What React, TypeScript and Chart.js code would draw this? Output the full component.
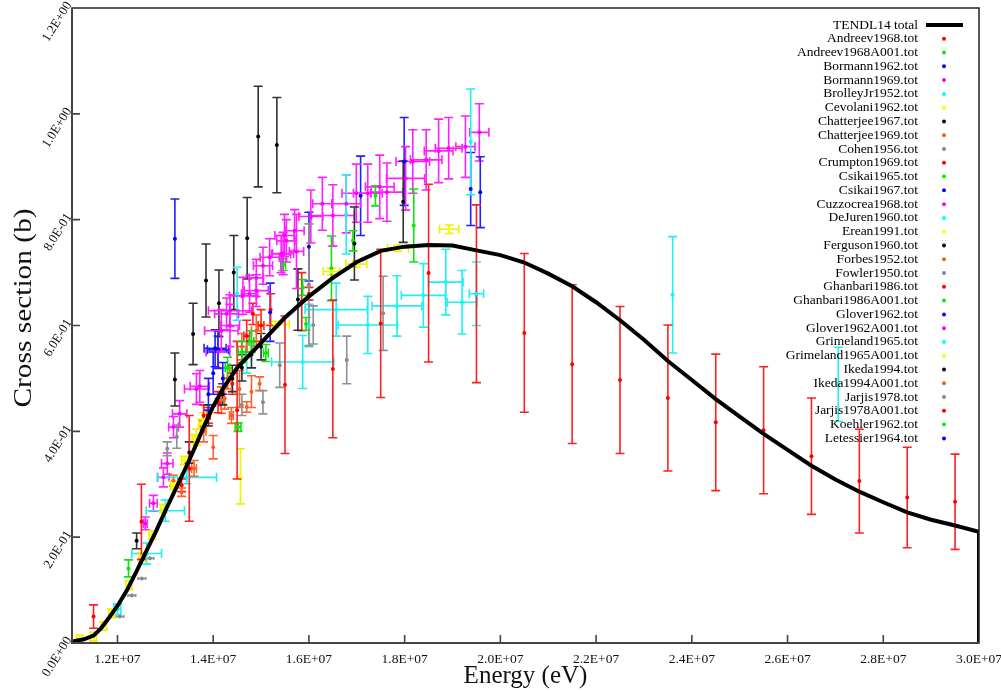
import React, { useEffect, useRef } from "react";
import { Chart, registerables } from "chart.js";

Chart.register(...registerables);

// [energy (eV), cross section (b), energy error, cross-section error]
type P = [number, number, number, number];

const xTicks = [1.2e7, 1.4e7, 1.6e7, 1.8e7, 2.0e7, 2.2e7, 2.4e7, 2.6e7, 2.8e7, 3.0e7];
const yTicks = [0, 0.2, 0.4, 0.6, 0.8, 1.0, 1.2];
const xTitle = "Energy (eV)";
const yTitle = "Cross section (b)";

const tendlEnergy = [
  1.105e7, 1.13e7, 1.15e7, 1.165e7, 1.18e7, 1.2e7, 1.22e7, 1.24e7, 1.26e7, 1.28e7, 1.3e7, 1.32e7,
  1.34e7, 1.36e7, 1.38e7, 1.4e7, 1.42e7, 1.45e7, 1.5e7, 1.55e7, 1.6e7, 1.65e7, 1.7e7, 1.75e7,
  1.8e7, 1.85e7, 1.9e7, 1.95e7, 2.0e7, 2.05e7, 2.1e7, 2.15e7, 2.2e7, 2.25e7, 2.3e7, 2.35e7,
  2.4e7, 2.45e7, 2.5e7, 2.55e7, 2.6e7, 2.65e7, 2.7e7, 2.75e7, 2.8e7, 2.85e7, 2.9e7, 2.95e7,
  3.0e7, 3.0e7,
];
const tendlSigma = [
  0.003, 0.007, 0.014, 0.027, 0.045, 0.07, 0.1, 0.136, 0.173, 0.21, 0.25, 0.288,
  0.326, 0.366, 0.408, 0.447, 0.48, 0.52, 0.567, 0.615, 0.655, 0.69, 0.72, 0.741,
  0.749, 0.752, 0.751, 0.742, 0.733, 0.719, 0.698, 0.674, 0.644, 0.61, 0.573, 0.533,
  0.497, 0.461, 0.428, 0.395, 0.365, 0.335, 0.309, 0.286, 0.266, 0.247, 0.233, 0.222,
  0.21, 0,
];

const andreev1968: P[] = [[1.15e7, 0.05, 0, 0.022], [1.334e7, 0.298, 0, 0.012], [1.39e7, 0.43, 0.04e6, 0.015]];
const andreev1968A001: P[] = [[1.223e7, 0.141, 0, 0.016], [1.452e7, 0.408, 0.06e6, 0.008]];
const bormann1962: P[] = [
  [1.32e7, 0.764, 0, 0.075], [1.519e7, 0.625, 0, 0.055], [1.6e7, 0.749, 0, 0.065],
  [1.708e7, 0.845, 0, 0.075], [1.799e7, 0.91, 0, 0.083],
];
const bormann1969: P[] = [
  [1.258e7, 0.226, 0.04e6, 0.012], [1.275e7, 0.264, 0.08e6, 0.015], [1.296e7, 0.313, 0.12e6, 0.018],
  [1.304e7, 0.339, 0.12e6, 0.02], [1.317e7, 0.408, 0.1e6, 0.02], [1.33e7, 0.433, 0.15e6, 0.025],
  [1.365e7, 0.48, 0.25e6, 0.029], [1.372e7, 0.485, 0.2e6, 0.03], [1.41e7, 0.55, 0.25e6, 0.03],
];
const brolleyJr1952: P[] = [
  [1.587e7, 0.531, 0.65e6, 0.05], [1.657e7, 0.63, 0.65e6, 0.05], [1.723e7, 0.601, 0.62e6, 0.054],
  [1.784e7, 0.637, 0.52e6, 0.057], [1.839e7, 0.657, 0.46e6, 0.06], [1.886e7, 0.682, 0.36e6, 0.062],
  [1.92e7, 0.644, 0.31e6, 0.06], [1.95e7, 0.66, 0.15e6, 0.06], [1.6e7, 0.6, 0, 0.04],
];
const cevolani1962: P[] = [[1.457e7, 0.315, 0, 0.052], [1.365e7, 0.389, 0, 0.015], [1.379e7, 0.42, 0, 0.015]];
const chatterjee1967: P[] = [
  [1.32e7, 0.498, 0, 0.05], [1.358e7, 0.584, 0, 0.058], [1.385e7, 0.685, 0, 0.069], [1.412e7, 0.642, 0, 0.063],
  [1.443e7, 0.7, 0, 0.07], [1.471e7, 0.765, 0, 0.077], [1.494e7, 0.957, 0, 0.095], [1.533e7, 0.941, 0, 0.09],
];
const chatterjee1969: P[] = [[1.317e7, 0.307, 0, 0.01], [1.334e7, 0.285, 0, 0.008], [1.4e7, 0.37, 0, 0.022]];
const cohen1956: P[] = [
  [1.205e7, 0.05, 0.08e6, 0], [1.23e7, 0.09, 0.08e6, 0], [1.251e7, 0.122, 0.08e6, 0], [1.268e7, 0.16, 0.08e6, 0],
];
const crumpton1969: P[] = [[1.483e7, 0.622, 0, 0.02], [1.585e7, 0.645, 0, 0.055], [1.6e7, 0.66, 0, 0.012]];
const csikai1965: P[] = [
  [1.51e7, 0.548, 0.05e6, 0.016], [1.546e7, 0.715, 0.05e6, 0.011], [1.594e7, 0.603, 0, 0.012], [1.587e7, 0.672, 0, 0.015],
];
const csikai1967: P[] = [[1.404e7, 0.557, 0.23e6, 0.035], [1.41e7, 0.554, 0.22e6, 0.035], [1.4e7, 0.51, 0, 0.04]];
const cuzzocrea1968: P[] = [
  [1.417e7, 0.59, 0.35e6, 0.04], [1.435e7, 0.6, 0.2e6, 0.04], [1.476e7, 0.66, 0.17e6, 0.035], [1.49e7, 0.69, 0.15e6, 0.035],
  [1.504e7, 0.713, 0.2e6, 0.035], [1.518e7, 0.729, 0.2e6, 0.035], [1.546e7, 0.736, 0.22e6, 0.04], [1.553e7, 0.76, 0.2e6, 0.04],
  [1.57e7, 0.779, 0.2e6, 0.04], [1.604e7, 0.806, 0.25e6, 0.05], [1.628e7, 0.83, 0.2e6, 0.05], [1.65e7, 0.808, 0.45e6, 0.058],
  [1.678e7, 0.83, 0.3e6, 0.055], [1.699e7, 0.85, 0.3e6, 0.055], [1.723e7, 0.85, 0.3e6, 0.055], [1.748e7, 0.862, 0.3e6, 0.06],
  [1.763e7, 0.852, 0.33e6, 0.055], [1.802e7, 0.878, 0.4e6, 0.06], [1.817e7, 0.91, 0.35e6, 0.06], [1.845e7, 0.913, 0.33e6, 0.057],
  [1.871e7, 0.93, 0.3e6, 0.06], [1.892e7, 0.935, 0.28e6, 0.058], [1.927e7, 0.938, 0.2e6, 0.058], [1.956e7, 0.965, 0.2e6, 0.054],
];
const deJuren1960: P[] = [
  [1.2e7, 0.064, 0.07e6, 0.01], [1.261e7, 0.169, 0.31e6, 0.02], [1.3e7, 0.25, 0.4e6, 0.02], [1.345e7, 0.313, 0.62e6, 0.012],
  [1.45e7, 0.66, 0, 0.05], [1.678e7, 0.81, 0, 0.075], [1.47e7, 0.54, 0.1e6, 0.03],
];
const erean1991: P[] = [
  [1.529e7, 0.602, 0.3e6, 0.006], [1.647e7, 0.702, 0.17e6, 0.006], [1.699e7, 0.716, 0.22e6, 0.006],
  [1.786e7, 0.746, 0.22e6, 0.006], [1.893e7, 0.782, 0.2e6, 0.008],
];
const ferguson1960: P[] = [[1.577e7, 0.649, 0, 0.058], [1.695e7, 0.755, 0, 0.069], [1.797e7, 0.834, 0, 0.077]];
const forbes1952: P[] = [
  [1.417e7, 0.459, 0, 0.025], [1.424e7, 0.462, 0, 0.02], [1.438e7, 0.43, 0.04e6, 0.015], [1.455e7, 0.48, 0, 0.035],
  [1.47e7, 0.446, 0, 0.01], [1.48e7, 0.475, 0, 0.03], [1.497e7, 0.49, 0, 0.013],
];
const fowler1950: P[] = [
  [1.304e7, 0.367, 0, 0.013], [1.324e7, 0.39, 0, 0.022], [1.46e7, 0.45, 0, 0.02], [1.504e7, 0.455, 0, 0.022], [1.539e7, 0.525, 0, 0.042],
];
const ghanbari1986: P[] = [
  [1.38e7, 0.43, 0, 0.02], [1.41e7, 0.455, 0.05e6, 0.02], [1.44e7, 0.49, 0, 0.02], [1.47e7, 0.58, 0.06e6, 0.03],
  [1.5e7, 0.6, 0.06e6, 0.03], [1.52e7, 0.63, 0, 0.03],
];
const ghanbari1986A001: P[] = [[1.647e7, 0.708, 0, 0.061], [1.692e7, 0.76, 0, 0.019], [1.739e7, 0.845, 0, 0.019], [1.819e7, 0.789, 0, 0.069]];
const glover1962: P[] = [[1.938e7, 0.858, 0, 0.069], [1.958e7, 0.852, 0, 0.067]];
const glover1962A001: P[] = [
  [1.428e7, 0.622, 0.25e6, 0.03], [1.435e7, 0.628, 0.45e6, 0.03], [1.462e7, 0.656, 0.28e6, 0.035], [1.49e7, 0.666, 0.25e6, 0.03],
  [1.542e7, 0.735, 0.2e6, 0.035], [1.549e7, 0.77, 0.2e6, 0.04], [1.574e7, 0.74, 0.15e6, 0.07],
];
const grimeland1965: P[] = [[1.938e7, 0.947, 0, 0.1], [2.36e7, 0.658, 0, 0.11], [2.706e7, 0.489, 0, 0.07]];
const grimeland1965A001: P[] = [
  [1.121e7, 0.007, 0.06e6, 0.008], [1.15e7, 0.012, 0.06e6, 0.008], [1.171e7, 0.032, 0.06e6, 0.008], [1.188e7, 0.056, 0.06e6, 0.008],
  [1.224e7, 0.109, 0.06e6, 0.008], [1.251e7, 0.163, 0.06e6, 0.008], [1.272e7, 0.204, 0.06e6, 0.008], [1.296e7, 0.254, 0.06e6, 0.008],
  [1.317e7, 0.298, 0.06e6, 0.008], [1.34e7, 0.345, 0.06e6, 0.008], [1.362e7, 0.386, 0.06e6, 0.008], [1.376e7, 0.415, 0.06e6, 0.008],
];
const ikeda1994: P[] = [
  [1.24e7, 0.193, 0, 0.015], [1.35e7, 0.36, 0, 0.02], [1.39e7, 0.43, 0, 0.02], [1.42e7, 0.47, 0, 0.02],
  [1.44e7, 0.5, 0, 0.025], [1.46e7, 0.52, 0, 0.025], [1.48e7, 0.545, 0, 0.025], [1.5e7, 0.56, 0, 0.025],
];
const ikeda1994A001: P[] = [
  [1.36e7, 0.33, 0.05e6, 0.015], [1.38e7, 0.4, 0.05e6, 0.02], [1.43e7, 0.5, 0.08e6, 0.02], [1.46e7, 0.56, 0.1e6, 0.025], [1.49e7, 0.59, 0.1e6, 0.03],
];
const jarjis1978: P[] = [[1.6e7, 0.677, 0, 0.115], [1.609e7, 0.601, 0, 0.036], [1.679e7, 0.535, 0, 0.045], [1.755e7, 0.623, 0, 0.07]];
const jarjis1978A001: P[] = [
  [1.25e7, 0.229, 0, 0.071], [1.35e7, 0.33, 0, 0.1], [1.45e7, 0.44, 0, 0.13], [1.55e7, 0.488, 0, 0.13],
  [1.65e7, 0.518, 0, 0.13], [1.75e7, 0.604, 0, 0.14], [1.85e7, 0.699, 0, 0.168], [1.95e7, 0.66, 0, 0.168],
  [2.05e7, 0.586, 0, 0.15], [2.15e7, 0.527, 0, 0.15], [2.25e7, 0.497, 0, 0.139], [2.35e7, 0.463, 0, 0.138],
  [2.45e7, 0.417, 0, 0.129], [2.55e7, 0.402, 0, 0.12], [2.65e7, 0.353, 0, 0.11], [2.75e7, 0.306, 0, 0.098],
  [2.85e7, 0.275, 0, 0.095], [2.95e7, 0.267, 0, 0.09],
];
const koehler1962: P[] = [[1.43e7, 0.52, 0.05e6, 0.02], [1.46e7, 0.55, 0.08e6, 0.02], [1.48e7, 0.57, 0.05e6, 0.02]];
const letessier1964: P[] = [[1.39e7, 0.47, 0, 0.03], [1.42e7, 0.5, 0, 0.03]];

const seriesNames = [
  "Andreev1968.tot", "Andreev1968A001.tot", "Bormann1962.tot", "Bormann1969.tot", "BrolleyJr1952.tot",
  "Cevolani1962.tot", "Chatterjee1967.tot", "Chatterjee1969.tot", "Cohen1956.tot", "Crumpton1969.tot",
  "Csikai1965.tot", "Csikai1967.tot", "Cuzzocrea1968.tot", "DeJuren1960.tot", "Erean1991.tot",
  "Ferguson1960.tot", "Forbes1952.tot", "Fowler1950.tot", "Ghanbari1986.tot", "Ghanbari1986A001.tot",
  "Glover1962.tot", "Glover1962A001.tot", "Grimeland1965.tot", "Grimeland1965A001.tot", "Ikeda1994.tot",
  "Ikeda1994A001.tot", "Jarjis1978.tot", "Jarjis1978A001.tot", "Koehler1962.tot", "Letessier1964.tot",
];
const seriesValues: P[][] = [
  andreev1968, andreev1968A001, bormann1962, bormann1969, brolleyJr1952,
  cevolani1962, chatterjee1967, chatterjee1969, cohen1956, crumpton1969,
  csikai1965, csikai1967, cuzzocrea1968, deJuren1960, erean1991,
  ferguson1960, forbes1952, fowler1950, ghanbari1986, ghanbari1986A001,
  glover1962, glover1962A001, grimeland1965, grimeland1965A001, ikeda1994,
  ikeda1994A001, jarjis1978, jarjis1978A001, koehler1962, letessier1964,
];
const palette = ["#ff0000", "#00ee00", "#0000ff", "#ff00ff", "#00ffff", "#ffff00", "#000000", "#ff5a22", "#888888"];
const barPalette = ["#ff2020", "#10e010", "#2020ff", "#ff20ff", "#20f0f0", "#f0f000", "#333333", "#ff6030", "#909090"];

const SERIF = "'Liberation Serif', 'Times New Roman', serif";

function sci(v: number): string {
  const s = Number(v).toExponential(1);
  const [m, e] = s.split("e");
  const sign = e[0] === "-" ? "-" : "+";
  const d = e.replace(/^[+-]/, "").padStart(2, "0");
  return `${m.toUpperCase()}E${sign}${d}`;
}

const errorBarPlugin = {
  id: "errorBars",
  beforeDatasetsDraw(chart: any) {
    const { ctx, chartArea: a, scales } = chart;
    const xs = scales.x, ys = scales.y;
    ctx.save();
    ctx.beginPath();
    ctx.rect(a.left, a.top, a.right - a.left, a.bottom - a.top);
    ctx.clip();
    ctx.lineWidth = 1.6;
    chart.data.datasets.forEach((ds: any) => {
      if (!ds.isExp) return;
      ctx.strokeStyle = ds.barColor;
      ds.data.forEach((p: any) => {
        const px = xs.getPixelForValue(p.x);
        const py = ys.getPixelForValue(p.y);
        ctx.beginPath();
        if (p.ye > 0) {
          const t = ys.getPixelForValue(p.y + p.ye);
          const b = ys.getPixelForValue(p.y - p.ye);
          ctx.moveTo(px, t); ctx.lineTo(px, b);
          ctx.moveTo(px - 4.5, t); ctx.lineTo(px + 4.5, t);
          ctx.moveTo(px - 4.5, b); ctx.lineTo(px + 4.5, b);
        }
        if (p.xe > 0) {
          const l = xs.getPixelForValue(p.x - p.xe);
          const r = xs.getPixelForValue(p.x + p.xe);
          ctx.moveTo(l, py); ctx.lineTo(r, py);
          if (p.ye > 0) {
            ctx.moveTo(l, py - 4.5); ctx.lineTo(l, py + 4.5);
            ctx.moveTo(r, py - 4.5); ctx.lineTo(r, py + 4.5);
          } else {
            ctx.moveTo(l, py - 1.5); ctx.lineTo(l, py + 1.5);
            ctx.moveTo(r, py - 1.5); ctx.lineTo(r, py + 1.5);
          }
        }
        ctx.stroke();
      });
    });
    ctx.restore();
  },
};

const framePlugin = {
  id: "frame",
  afterDatasetsDraw(chart: any) {
    const { ctx, chartArea: a, scales } = chart;
    ctx.save();
    ctx.strokeStyle = "#222";
    ctx.lineWidth = 1.5;
    ctx.strokeRect(a.left, a.top, a.right - a.left, a.bottom - a.top);
    ctx.strokeStyle = "#444";
    ctx.lineWidth = 2;
    ctx.beginPath();
    ctx.moveTo(a.left, a.top); ctx.lineTo(a.left, a.bottom); ctx.lineTo(a.right, a.bottom);
    ctx.stroke();
    ctx.lineWidth = 1.6;
    ctx.beginPath();
    scales.x.ticks.forEach((t: any) => {
      const px = scales.x.getPixelForValue(t.value);
      if (px <= a.left + 1 || px >= a.right - 1) return;
      ctx.moveTo(px, a.bottom); ctx.lineTo(px, a.bottom - 8);
    });
    scales.y.ticks.forEach((t: any) => {
      const py = scales.y.getPixelForValue(t.value);
      if (py <= a.top + 1 || py >= a.bottom - 1) return;
      ctx.moveTo(a.left, py); ctx.lineTo(a.left + 8, py);
    });
    ctx.stroke();
    ctx.restore();
  },
};

// y-axis title, drawn slightly stretched along its length as in the source image
const yTitlePlugin = {
  id: "yTitle",
  afterDraw(chart: any) {
    const { ctx } = chart;
    ctx.save();
    ctx.translate(25, 308);
    ctx.rotate(-Math.PI / 2);
    ctx.scale(1.2, 1);
    ctx.font = `24.5px ${SERIF}`;
    ctx.fillStyle = "#111";
    ctx.textAlign = "center";
    ctx.textBaseline = "middle";
    ctx.fillText(yTitle, 0, 0);
    ctx.restore();
  },
};

const legendPlugin = {
  id: "insideLegend",
  afterDraw(chart: any) {
    const { ctx, chartArea: a } = chart;
    ctx.save();
    ctx.font = `13.5px ${SERIF}`;
    ctx.textAlign = "right";
    ctx.textBaseline = "middle";
    const textX = a.right - 61;
    const markX = a.right - 35;
    chart.data.datasets.forEach((ds: any, i: number) => {
      const yy = a.top + 17 + i * 13.78;
      ctx.fillStyle = "#000";
      ctx.fillText(ds.label, textX, yy);
      if (!ds.isExp) {
        ctx.strokeStyle = "#000";
        ctx.lineWidth = 4;
        ctx.beginPath();
        ctx.moveTo(a.right - 53, yy); ctx.lineTo(a.right - 16, yy);
        ctx.stroke();
      } else {
        ctx.fillStyle = ds.backgroundColor;
        ctx.beginPath();
        ctx.arc(markX, yy, 2, 0, Math.PI * 2);
        ctx.fill();
      }
    });
    ctx.restore();
  },
};

export default function App() {
  const ref = useRef<HTMLCanvasElement | null>(null);

  useEffect(() => {
    if (!ref.current) return;
    Chart.defaults.font.family = SERIF;
    const datasets: any[] = [
      {
        type: "line",
        label: "TENDL14 total",
        data: tendlEnergy.map((e, i) => ({ x: e, y: tendlSigma[i] })),
        borderColor: "#000",
        borderWidth: 4,
        pointRadius: 0,
        showLine: true,
        tension: 0,
        fill: false,
        isExp: false,
      },
      ...seriesValues.map((vals, i) => ({
        type: "scatter",
        label: seriesNames[i],
        data: vals.map((p) => ({ x: p[0], y: p[1], xe: p[2], ye: p[3] })),
        backgroundColor: palette[i % palette.length],
        borderWidth: 0,
        pointRadius: 2,
        pointHoverRadius: 2,
        isExp: true,
        barColor: barPalette[i % barPalette.length],
      })),
    ];

    const chart = new Chart(ref.current, {
      type: "scatter",
      data: { datasets },
      plugins: [errorBarPlugin, framePlugin, yTitlePlugin, legendPlugin],
      options: {
        animation: false,
        responsive: true,
        maintainAspectRatio: false,
        layout: { padding: { top: 8, right: 22, left: 0, bottom: 0 } },
        plugins: { legend: { display: false }, tooltip: { enabled: false } },
        scales: {
          x: {
            type: "linear",
            min: 1.105e7,
            max: 3.0e7,
            afterBuildTicks: (s: any) => {
              s.ticks = xTicks.map((v) => ({ value: v }));
            },
            afterFit: (s: any) => {
              s.height = 49;
              s.paddingLeft = 0;
              s.paddingRight = 0;
            },
            grid: { display: false, drawTicks: false },
            border: { display: false },
            ticks: {
              callback: (v: any) => sci(Number(v)),
              font: { size: 13.5 },
              color: "#111",
              padding: 8,
              maxRotation: 0,
              minRotation: 0,
              autoSkip: false,
            },
            title: {
              display: true,
              text: xTitle,
              font: { size: 25 },
              color: "#111",
              padding: { top: 0, bottom: 1 },
            },
          },
          y: {
            type: "linear",
            min: 0,
            max: 1.2,
            afterBuildTicks: (s: any) => {
              s.ticks = yTicks.map((v) => ({ value: v }));
            },
            afterFit: (s: any) => {
              s.width = 72;
              s.paddingTop = 0;
              s.paddingBottom = 0;
            },
            grid: { display: false, drawTicks: false },
            border: { display: false },
            ticks: {
              callback: (v: any) => sci(Number(v)),
              font: { size: 13 },
              color: "#111",
              padding: 3,
              labelOffset: -5,
              minRotation: 58,
              maxRotation: 58,
              autoSkip: false,
            },
            title: { display: false },
          },
        },
      } as any,
    });
    return () => chart.destroy();
  }, []);

  return (
    <div style={{ position: "fixed", left: 0, top: 0, width: 1001, height: 692, background: "#fff" }}>
      <canvas ref={ref} />
    </div>
  );
}
